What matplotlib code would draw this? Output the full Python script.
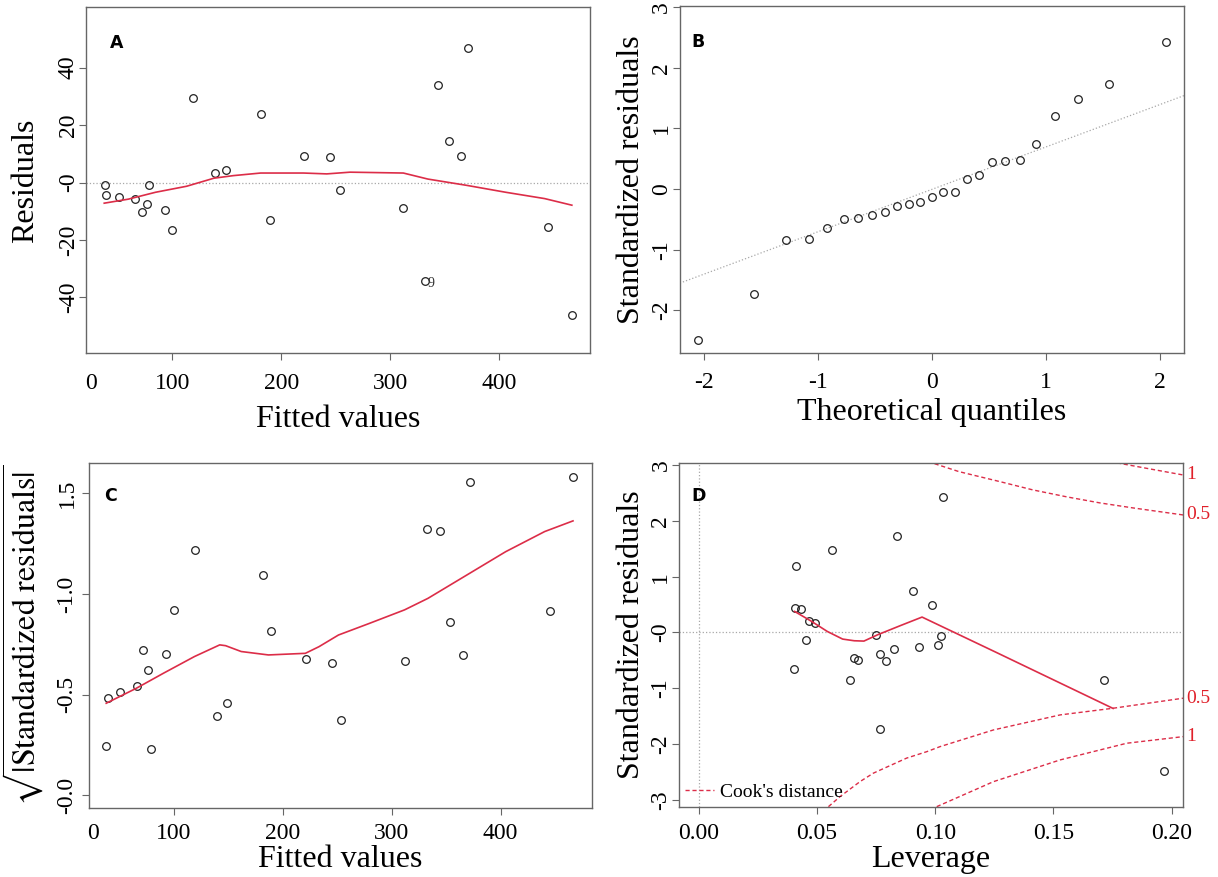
import matplotlib
matplotlib.use('Agg')
import matplotlib.pyplot as plt

plt.rcParams['font.family'] = ['Liberation Serif', 'DejaVu Serif']
plt.rcParams['mathtext.fontset'] = 'stix'
plt.rcParams['axes.unicode_minus'] = False

# ---- data (lm diagnostic plots, n = 25) ----
fitted = [37.9, 39.5, 50.7, 66.2, 72.0, 76.6, 78.8, 92.9, 100.0, 119.3, 139.6, 149.1, 181.6,
          189.6, 221.0, 245.2, 253.8, 312.0, 332.3, 344.3, 353.8, 365.2, 371.6, 445.0, 466.6]
residuals = [-1.0, -4.5, -5.1, -5.8, -10.1, -7.5, -0.9, -9.6, -16.6, 29.4, 3.3, 4.3, 24.0,
             -12.9, 9.2, 8.8, -2.7, -8.9, -34.3, 33.9, 14.5, 9.4, 47.0, -15.4, -46.0]
sqrt_abs_std = [0.247, 0.483, 0.513, 0.545, 0.720, 0.623, 0.232, 0.700, 0.922, 1.217, 0.392, 0.460,
                1.093, 0.815, 0.675, 0.659, 0.373, 0.669, 1.321, 1.313, 0.861, 0.695, 1.558, 0.914, 1.583]

# smoother lines (red)
smooth_a_x = [37.5, 59.6, 84.6, 113.2, 138.2, 156.1, 181.1, 220.4, 241.8, 263.2, 312.1, 334.6, 370.4, 406.1, 441.8, 466.8]
smooth_a_y = [-7.2, -5.8, -3.4, -1.3, 1.5, 2.4, 3.3, 3.3, 3.0, 3.6, 3.3, 1.2, -1.0, -3.4, -5.6, -7.9]
smooth_c_x = [37.9, 65.4, 90.4, 118.9, 142.1, 147.5, 161.8, 186.8, 220.7, 233.2, 251.1, 279.6, 311.8, 333.2, 368.9, 404.6, 440.4, 466.4]
smooth_c_y = [0.457, 0.531, 0.606, 0.689, 0.747, 0.743, 0.714, 0.697, 0.705, 0.738, 0.796, 0.854, 0.921, 0.978, 1.094, 1.210, 1.310, 1.363]

# normal Q-Q
theo_q = [-2.054, -1.555, -1.282, -1.080, -0.915, -0.772, -0.643, -0.524, -0.412, -0.305, -0.202, -0.100, 0.0,
          0.100, 0.202, 0.305, 0.412, 0.524, 0.643, 0.772, 0.915, 1.080, 1.282, 1.555, 2.054]
std_sorted = [-2.49, -1.73, -0.835, -0.82, -0.64, -0.50, -0.48, -0.43, -0.37, -0.28, -0.25, -0.22, -0.13,
              -0.05, -0.04, 0.17, 0.23, 0.44, 0.47, 0.48, 0.74, 1.20, 1.48, 1.73, 2.43]
qq_slope, qq_intercept = 0.70, -0.005

# residuals vs leverage
leverage = [0.0405, 0.0410, 0.0403, 0.0434, 0.0454, 0.0466, 0.0492, 0.0562, 0.0639, 0.0657, 0.0675, 0.0749, 0.0764,
            0.0767, 0.0790, 0.0826, 0.0839, 0.0905, 0.0931, 0.0984, 0.1011, 0.1023, 0.1031, 0.1715, 0.1969]
std_res = [0.436, 1.188, -0.657, 0.418, -0.137, 0.209, 0.167, 1.475, -0.860, -0.460, -0.496, -0.054, -0.394,
           -1.737, -0.519, -0.299, 1.725, 0.734, -0.269, 0.484, -0.233, -0.060, 2.430, -0.848, -2.490]
smooth_d_x = [0.0405, 0.0477, 0.0543, 0.0608, 0.0657, 0.0698, 0.0756, 0.0854, 0.0944, 0.1264, 0.1752]
smooth_d_y = [0.376, 0.197, 0.018, -0.119, -0.149, -0.155, -0.042, 0.125, 0.275, -0.370, -1.361]

# Cook's distance contours
cook_up05_x = [0.0969, 0.110, 0.1274, 0.1413, 0.1557, 0.1697, 0.1836, 0.2048]
cook_up05_y = [3.06, 2.88, 2.70, 2.552, 2.427, 2.319, 2.23, 2.104]
cook_up1_x = [0.1739, 0.1908, 0.2048]
cook_up1_y = [3.06, 2.928, 2.82]
cook_lo05_x = [0.0548, 0.0597, 0.0682, 0.0738, 0.0879, 0.0964, 0.1020, 0.1246, 0.1528, 0.1753, 0.2048]
cook_lo05_y = [-3.12, -2.94, -2.67, -2.52, -2.25, -2.135, -2.045, -1.746, -1.477, -1.357, -1.178]
cook_lo1_x = [0.1006, 0.1246, 0.1528, 0.1810, 0.2048]
cook_lo1_y = [-3.12, -2.672, -2.283, -1.984, -1.866]

RED = '#dc2d48'
GRAY_LINE = '#a8a8a8'
SPINE = '#666666'
LABEL_FS = 23
TICK_FS = 17

fig = plt.figure(figsize=(12.18, 8.77), dpi=100)
ax_a = fig.add_axes([0.0709, 0.5971, 0.4139, 0.3945])
ax_b = fig.add_axes([0.5581, 0.5978, 0.4139, 0.3953])
ax_c = fig.add_axes([0.0728, 0.0790, 0.4133, 0.3927])
ax_d = fig.add_axes([0.5575, 0.0802, 0.4138, 0.3916])


def style(ax, xpad, ypad):
    for s in ax.spines.values():
        s.set_color(SPINE)
        s.set_linewidth(1.0)
    ax.tick_params(direction='out', length=5, width=0.8, color=SPINE, labelsize=TICK_FS)
    ax.tick_params(axis='x', pad=xpad)
    ax.tick_params(axis='y', pad=ypad, labelrotation=90)
    for lab in ax.get_yticklabels():
        lab.set_va('center')


def points(ax, x, y):
    ax.plot(x, y, linestyle='none', marker='o', ms=5.5, mfc='none', mec='#222222', mew=0.9)


def zero_label(ax, pad):
    ax.annotate('0', xy=(0.0085, 0), xycoords='axes fraction', xytext=(0, -(5 + pad)),
                textcoords='offset points', ha='center', va='top', fontsize=TICK_FS)


def panel_letter(ax, x, y, letter):
    ax.text(x, y, letter, transform=ax.transAxes, family='DejaVu Sans', weight='bold',
            fontsize=12.5, ha='center', va='center')


# A: residuals vs fitted
ax = ax_a
ax.axhline(0, color=GRAY_LINE, linestyle=':', lw=0.9)
points(ax, fitted, residuals)
ax.plot(smooth_a_x, smooth_a_y, color=RED, lw=1.2)
ax.annotate('9', xy=(fitted[18], residuals[18]), xytext=(3.8, -1.5), textcoords='offset points',
            ha='center', va='center', fontsize=10, color='#333333')
ax.set_xlim(21.1, 483.9)
ax.set_ylim(-59.5, 61)
ax.set_xticks([100, 200, 300, 400])
ax.set_yticks([40, 20, 0, -20, -40])
ax.set_yticklabels(['40', '20', '-0', '-20', '-40'])
style(ax, 9, 0.5)
zero_label(ax, 9)
ax.set_xlabel('Fitted values', fontsize=LABEL_FS)
ax.set_ylabel('Residuals', fontsize=LABEL_FS)
ax.xaxis.set_label_coords(0.5, -0.149)
ax.yaxis.set_label_coords(-0.092, 0.5)
panel_letter(ax, 0.0607, 0.898, 'A')

# B: normal Q-Q
ax = ax_b
qx = [-2.21, 2.21]
ax.plot(qx, [qq_intercept + qq_slope * v for v in qx], color=GRAY_LINE, linestyle=':', lw=0.9)
points(ax, theo_q, std_sorted)
ax.set_xlim(-2.21, 2.21)
ax.set_ylim(-2.70, 3.02)
ax.set_xticks([-2, -1, 0, 1, 2])
ax.set_yticks([3, 2, 1, 0, -1, -2])
style(ax, 8.6, 0.5)
ax.set_xlabel('Theoretical quantiles', fontsize=LABEL_FS)
ax.set_ylabel('Standardized residuals', fontsize=LABEL_FS)
ax.xaxis.set_label_coords(0.5, -0.131)
ax.yaxis.set_label_coords(-0.067, 0.5)
panel_letter(ax, 0.036, 0.896, 'B')

# C: scale-location
ax = ax_c
points(ax, fitted, sqrt_abs_std)
ax.plot(smooth_c_x, smooth_c_y, color=RED, lw=1.2)
ax.set_xlim(21.8, 483.9)
ax.set_ylim(-0.062, 1.649)
ax.set_xticks([100, 200, 300, 400])
ax.set_yticks([1.5, 1.0, 0.5, 0.0])
ax.set_yticklabels(['1.5', '-1.0', '-0.5', '-0.0'])
style(ax, 6, 3)
zero_label(ax, 6)
ax.set_xlabel('Fitted values', fontsize=LABEL_FS)
ax.set_ylabel(r'$\sqrt{|\mathrm{Standardized\ residuals}|}$', fontsize=LABEL_FS)
ax.xaxis.set_label_coords(0.5, -0.108)
ax.yaxis.set_label_coords(-0.085, 0.5)
panel_letter(ax, 0.0443, 0.905, 'C')

# D: residuals vs leverage
ax = ax_d
ax.axhline(0, color=GRAY_LINE, linestyle=':', lw=0.9)
ax.axvline(0, color=GRAY_LINE, linestyle=':', lw=0.9)
points(ax, leverage, std_res)
ax.plot(smooth_d_x, smooth_d_y, color=RED, lw=1.2)
cook_kw = dict(color=RED, linestyle=(0, (3, 2)), lw=1.0)
ax.plot(cook_lo05_x, cook_lo05_y, label="Cook's distance", **cook_kw)
ax.plot(cook_up05_x, cook_up05_y, **cook_kw)
ax.plot(cook_up1_x, cook_up1_y, **cook_kw)
ax.plot(cook_lo1_x, cook_lo1_y, **cook_kw)
for yv, txt in [(cook_up1_y[-1], '1'), (cook_up05_y[-1], '0.5'),
                (cook_lo05_y[-1], '0.5'), (cook_lo1_y[-1], '1')]:
    ax.annotate(txt, xy=(1.0, yv), xycoords=('axes fraction', 'data'), xytext=(2, 0),
                textcoords='offset points', ha='left', va='center', color='#e0202a',
                fontsize=14, annotation_clip=False)
ax.set_xlim(-0.0084, 0.2048)
ax.set_ylim(-3.12, 3.03)
ax.set_xticks([0.0, 0.05, 0.10, 0.15, 0.20])
ax.set_xticklabels(['0.00', '0.05', '0.10', '0.15', '0.20'])
ax.set_yticks([3, 2, 1, 0, -1, -2, -3])
ax.set_yticklabels(['3', '2', '1', '-0', '-1', '-2', '-3'])
style(ax, 6.9, 0.5)
ax.legend(loc='lower left', frameon=False, fontsize=14, handlelength=1.5, handletextpad=0.3,
          borderaxespad=0.1, borderpad=0.2)
ax.set_xlabel('Leverage', fontsize=LABEL_FS)
ax.set_ylabel('Standardized residuals', fontsize=LABEL_FS)
ax.xaxis.set_label_coords(0.5, -0.1115)
ax.yaxis.set_label_coords(-0.0655, 0.5)
panel_letter(ax, 0.039, 0.906, 'D')

fig.savefig('out.png', dpi=100)
